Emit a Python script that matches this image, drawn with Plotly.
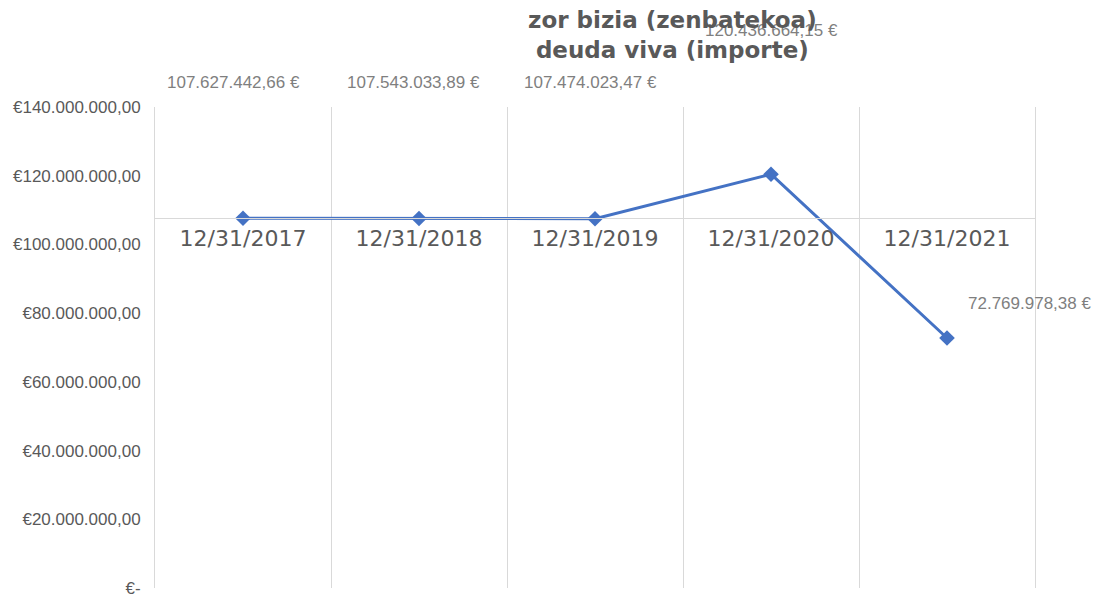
import plotly.graph_objects as go

categories = ["12/31/2017", "12/31/2018", "12/31/2019", "12/31/2020", "12/31/2021"]
values = [107627442.66, 107543033.89, 107474023.47, 120436664.15, 72769978.38]
y_tick_vals = [0, 20e6, 40e6, 60e6, 80e6, 100e6, 120e6, 140e6]
y_tick_text = ["€-", "€20.000.000,00", "€40.000.000,00", "€60.000.000,00",
               "€80.000.000,00", "€100.000.000,00", "€120.000.000,00", "€140.000.000,00"]
title_lines = ["zor bizia (zenbatekoa)", "deuda viva (importe)"]

Y_MAX = 140e6
label_shifts = [(-10, 136), (-6, 136), (-5, 136), (0, 144), (82, 34)]
SANS = "Liberation Sans, Arial, sans-serif"


def fmt_eur(v):
    s = f"{v:,.2f}"
    s = s.replace(",", "X").replace(".", ",").replace("X", ".")
    return s + " €"


fig = go.Figure()
fig.add_trace(go.Scatter(
    x=categories, y=values, mode="lines+markers",
    line=dict(color="#4472C4", width=3),
    marker=dict(symbol="diamond", size=12, color="#4472C4"),
    showlegend=False, hoverinfo="skip",
))

annotations = []
for c, v, (dx, dy) in zip(categories, values, label_shifts):
    annotations.append(dict(
        x=c, y=v, xref="x", yref="y", text=fmt_eur(v), showarrow=False,
        xshift=dx, yshift=dy, xanchor="center", yanchor="middle",
        font=dict(family=SANS, size=17, color="#7f7f7f"),
    ))
annotations.append(dict(
    x=0.5875, y=1.149, xref="paper", yref="paper",
    text="<b>" + "<br>".join(title_lines) + "</b>", showarrow=False,
    xanchor="center", yanchor="middle", align="center",
    font=dict(family="DejaVu Sans", size=23, color="#595959"),
))

# page body has an 8px default margin: figure is drawn from (8, 8)
fig.update_layout(
    width=1093, height=592,
    margin=dict(l=147, r=66, t=99, b=12, autoexpand=False),
    paper_bgcolor="white", plot_bgcolor="white",
    annotations=annotations,
    xaxis=dict(
        type="category", range=[-0.5, 4.5], automargin=False,
        anchor="free", position=values[0] / Y_MAX,
        showline=True, linecolor="#d9d9d9", linewidth=1,
        showgrid=True, gridcolor="#d9d9d9", gridwidth=1,
        tickson="boundaries", ticks="", ticklen=0,
        tickfont=dict(family="DejaVu Sans", size=22, color="#595959"),
        zeroline=False,
    ),
    yaxis=dict(
        range=[0, Y_MAX], tickvals=y_tick_vals, ticktext=y_tick_text,
        automargin=False,
        showgrid=False, zeroline=False,
        showline=True, mirror=True, linecolor="#d9d9d9", linewidth=1,
        ticks="",
        tickfont=dict(family=SANS, size=17, color="#595959"),
        ticklabelstandoff=10,
    ),
)

fig.write_html("out.html")
